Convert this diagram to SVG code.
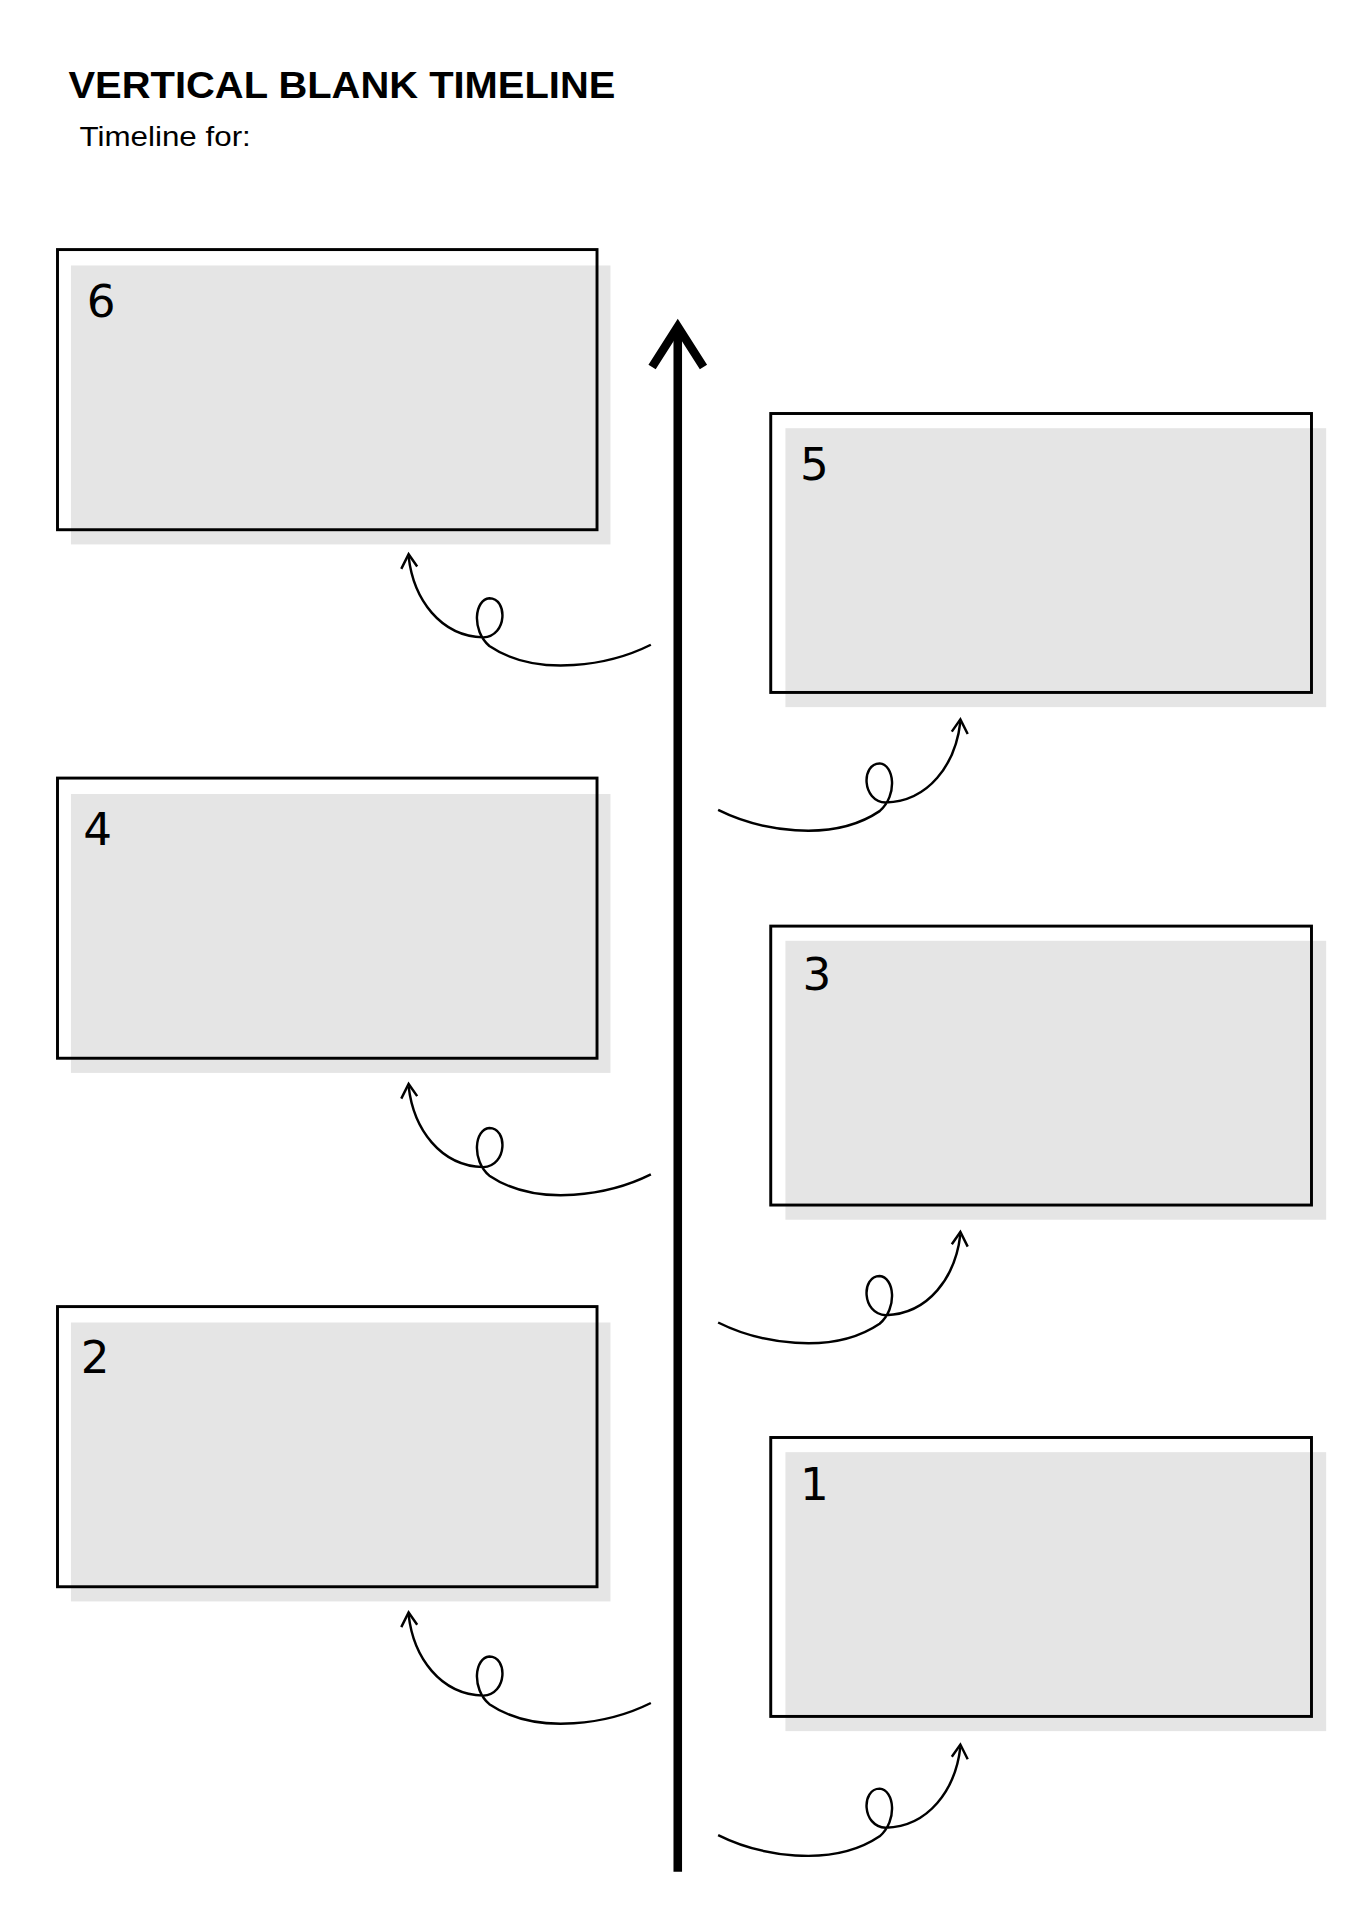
<svg xmlns="http://www.w3.org/2000/svg" xmlns:xlink="http://www.w3.org/1999/xlink" width="1358" height="1920" viewBox="0 0 1358 1920">
<style>
.sh{fill:#e5e5e5}
.bx{fill:none;stroke:#000;stroke-width:2.4}
.num{font-family:"DejaVu Sans",sans-serif;font-size:37px;fill:#000}
.cn{fill:none;stroke:#000;stroke-width:2}
</style>
<defs>
<g id="cl">
<path class="cn" d="M0,0 C-32,16 -92,28 -132,1 C-147,-12 -144,-37 -132,-38 C-117,-38 -117,-7 -137,-6 C-172,-7 -194,-37 -198,-72"/>
<path class="cn" d="M-204,-62 L-198,-74 L-191,-64"/>
</g>
</defs>
<rect width="1358" height="1920" fill="#fff"/>
<g transform="scale(1.2234)">
<text x="56" y="80" font-family="Liberation Sans, Arial, sans-serif" font-weight="bold" font-size="30" textLength="447" lengthAdjust="spacingAndGlyphs">VERTICAL BLANK TIMELINE</text>
<text x="65" y="119" font-family="Liberation Sans, Arial, sans-serif" font-size="23" textLength="140" lengthAdjust="spacingAndGlyphs">Timeline for:</text>
<g id="node6"><rect class="sh" x="58" y="217" width="441" height="228"/><rect class="bx" x="47" y="204" width="441" height="229"/><text class="num" x="71" y="259">6</text></g>
<g id="node5"><rect class="sh" x="642" y="350" width="442" height="228"/><rect class="bx" x="630" y="338" width="442" height="228"/><text class="num" x="654" y="392">5</text></g>
<g id="node4"><rect class="sh" x="58" y="649" width="441" height="228"/><rect class="bx" x="47" y="636" width="441" height="229"/><text class="num" x="68" y="691">4</text></g>
<g id="node3"><rect class="sh" x="642" y="769" width="442" height="228"/><rect class="bx" x="630" y="757" width="442" height="228"/><text class="num" x="656" y="809">3</text></g>
<g id="node2"><rect class="sh" x="58" y="1081" width="441" height="228"/><rect class="bx" x="47" y="1068" width="441" height="229"/><text class="num" x="66" y="1122">2</text></g>
<g id="node1"><rect class="sh" x="642" y="1187" width="442" height="228"/><rect class="bx" x="630" y="1175" width="442" height="228"/><text class="num" x="654" y="1226">1</text></g>
<g id="connectors">
<line x1="554" y1="1530" x2="554" y2="270" stroke="#000" stroke-width="7"/>
<path d="M533,300 L554,267 L575,300" fill="none" stroke="#000" stroke-width="7"/>
<use xlink:href="#cl" transform="translate(532,527)"/>
<use xlink:href="#cl" transform="translate(532,960)"/>
<use xlink:href="#cl" transform="translate(532,1392)"/>
<use xlink:href="#cl" transform="translate(587,662) scale(-1,1)"/>
<use xlink:href="#cl" transform="translate(587,1081) scale(-1,1)"/>
<use xlink:href="#cl" transform="translate(587,1500) scale(-1,1)"/>
</g>
</g>
</svg>
